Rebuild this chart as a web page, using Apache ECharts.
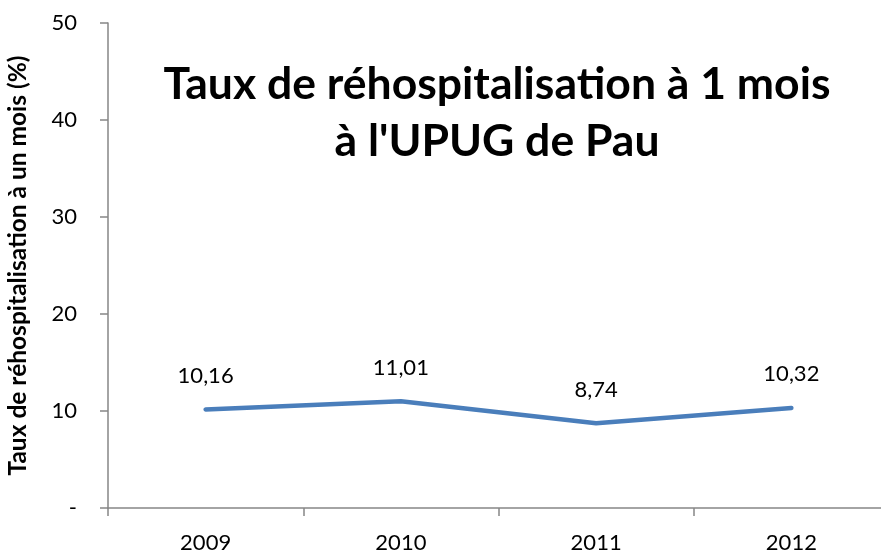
<!DOCTYPE html>
<html>
<head>
<meta charset="utf-8">
<script src="https://cdn.jsdelivr.net/npm/echarts@6/dist/echarts.min.js"></script>
<style>
  html, body { margin: 0; padding: 0; background: #fff; }
  #main { width: 881px; height: 553px; }
</style>
</head>
<body>
<div id="main"></div>
<script>
const years = ["2009", "2010", "2011", "2012"];
const rates = [10.16, 11.01, 8.74, 10.32];
const yTicks = [0, 10, 20, 30, 40, 50];

const font = "Lato, 'Open Sans', sans-serif";
const axisGray = "#868686";
const lineBlue = "#4a7ebb";

let chart = echarts.init(document.getElementById("main"));
chart.setOption({
  backgroundColor: "#ffffff",
  animation: false,
  textStyle: { fontFamily: font },
  title: {
    text: "Taux de réhospitalisation à 1 mois\nà l'UPUG de Pau",
    left: 492,
    top: 51,
    textAlign: "center",
    textStyle: {
      fontFamily: font,
      fontSize: 44.5,
      fontWeight: "bold",
      color: "#000",
      lineHeight: 57
    }
  },
  grid: {
    left: 108,
    right: -8,
    top: 23,
    bottom: 45,
    containLabel: false,
    outerBoundsMode: "none"
  },
  xAxis: {
    type: "category",
    data: years,
    boundaryGap: true,
    axisLine: { lineStyle: { color: axisGray, width: 1.5 } },
    axisTick: { show: true, length: 8, lineStyle: { color: axisGray, width: 1.5 } },
    axisLabel: { color: "#000", fontSize: 22, margin: 24, fontFamily: font }
  },
  yAxis: {
    type: "value",
    min: yTicks[0],
    max: yTicks[yTicks.length - 1],
    interval: 10,
    name: "Taux de réhospitalisation à un mois (%)",
    nameLocation: "middle",
    nameGap: 77,
    nameTextStyle: { fontFamily: font, fontSize: 24.5, fontWeight: "bold", color: "#000" },
    axisLine: { show: true, lineStyle: { color: axisGray, width: 1.5 } },
    axisTick: { show: true, length: 8, lineStyle: { color: axisGray, width: 1.5 } },
    splitLine: { show: false },
    axisLabel: {
      color: "#000",
      fontSize: 22,
      margin: 31,
      fontFamily: font,
      formatter: v => (v === 0 ? "-" : String(v))
    }
  },
  series: [
    {
      type: "line",
      data: rates,
      symbol: "circle",
      symbolSize: 1,
      showSymbol: true,
      lineStyle: { color: lineBlue, width: 4.5, cap: "round", join: "round" },
      itemStyle: { color: lineBlue },
      label: {
        show: true,
        position: "top",
        distance: 22,
        fontSize: 22,
        color: "#000",
        fontFamily: font,
        formatter: p => p.value.toFixed(2).replace(".", ",")
      }
    }
  ]
});
</script>
</body>
</html>
